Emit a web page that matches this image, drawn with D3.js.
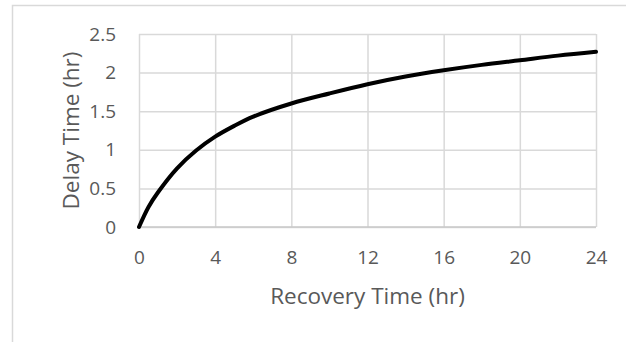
<!DOCTYPE html>
<html>
<head>
<meta charset="utf-8">
<script src="https://cdn.jsdelivr.net/npm/d3@7"></script>
<style>
  html, body { margin: 0; padding: 0; background: #fff; }
  svg { display: block; }
  text { font-family: "Open Sans", "Liberation Sans", sans-serif; fill: #595959; }
</style>
</head>
<body>
<svg id="chart" width="626" height="342"></svg>
<script>
const recoveryTime = [0, 0.5, 1, 2, 3, 4, 5, 6, 8, 10, 12, 14, 16, 18, 20, 22, 24];
const delayTime    = [0, 0.26, 0.45, 0.76, 0.99, 1.17, 1.31, 1.43, 1.60, 1.73, 1.85, 1.95, 2.03, 2.10, 2.16, 2.22, 2.27];
const xTicks = [0, 4, 8, 12, 16, 20, 24];
const yTicks = [0, 0.5, 1, 1.5, 2, 2.5];
const xTitle = "Recovery Time (hr)";
const yTitle = "Delay Time (hr)";

const svg = d3.select("#chart");
const W = 626, H = 342;
const plot = { left: 139, right: 596, top: 34, bottom: 227 };

// outer chart frame (cropped on the right and bottom)
svg.append("path")
  .attr("d", `M12.5,${H} L12.5,5.5 L${W},5.5`)
  .attr("fill", "none").attr("stroke", "#d9d9d9").attr("stroke-width", 1.5);

const x = d3.scaleLinear().domain([0, 24]).range([plot.left, plot.right]);
const y = d3.scaleLinear().domain([0, 2.5]).range([plot.bottom, plot.top]);

// gridlines
const xGrid = svg.append("g").attr("transform", `translate(0,${plot.bottom})`)
  .call(d3.axisBottom(x).tickValues(xTicks).tickSize(-(plot.bottom - plot.top)).tickFormat(""));
const yGrid = svg.append("g").attr("transform", `translate(${plot.left},0)`)
  .call(d3.axisLeft(y).tickValues(yTicks).tickSize(-(plot.right - plot.left)).tickFormat(""));
[xGrid, yGrid].forEach(g => {
  g.select(".domain").remove();
  g.selectAll("line").attr("stroke", "#d9d9d9").attr("stroke-width", 1.5);
});
// bottom axis line
svg.append("line")
  .attr("x1", plot.left).attr("x2", plot.right)
  .attr("y1", y(0)).attr("y2", y(0))
  .attr("stroke", "#c8c8c8").attr("stroke-width", 1.5);

// tick labels
const xAxis = svg.append("g").attr("transform", `translate(0,${plot.bottom})`)
  .call(d3.axisBottom(x).tickValues(xTicks).tickSize(0).tickPadding(24).tickFormat(d3.format("d")));
xAxis.select(".domain").remove();
xAxis.selectAll("text").attr("font-size", 19).attr("fill", "#595959")
  .attr("font-family", '"Open Sans", sans-serif');

const yAxis = svg.append("g").attr("transform", `translate(${plot.left},0)`)
  .call(d3.axisLeft(y).tickValues(yTicks).tickSize(0).tickPadding(23).tickFormat(d => String(d)));
yAxis.select(".domain").remove();
yAxis.selectAll("text").attr("font-size", 19).attr("fill", "#595959")
  .attr("font-family", '"Open Sans", sans-serif');

// curve
const line = d3.line()
  .x((d, i) => x(recoveryTime[i]))
  .y(d => y(d))
  .curve(d3.curveCatmullRom.alpha(0.5));
svg.append("path")
  .datum(delayTime)
  .attr("d", line)
  .attr("fill", "none")
  .attr("stroke", "#000")
  .attr("stroke-width", 4)
  .attr("stroke-linecap", "round");

// axis titles
svg.append("text")
  .attr("x", (plot.left + plot.right) / 2).attr("y", 304)
  .attr("text-anchor", "middle").attr("font-size", 22.5)
  .text(xTitle);
svg.append("text")
  .attr("transform", `translate(79,${(plot.top + plot.bottom) / 2}) rotate(-90)`)
  .attr("text-anchor", "middle").attr("font-size", 22.5)
  .text(yTitle);
</script>
</body>
</html>
